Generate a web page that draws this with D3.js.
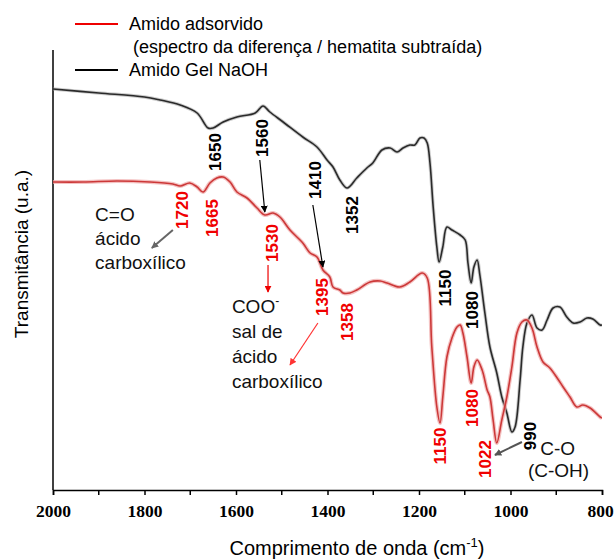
<!DOCTYPE html>
<html>
<head>
<meta charset="utf-8">
<script src="https://cdn.jsdelivr.net/npm/d3@7"></script>
<style>
  body { margin: 0; background: #fff; }
  text { font-family: "Liberation Sans", Arial, sans-serif; }
</style>
</head>
<body>
<div id="chart"></div>
<script>
// Amido Gel NaOH (black)
const blackWave = [2000, 1900, 1800, 1766, 1722, 1685, 1661, 1650, 1628, 1598, 1558, 1541, 1526, 1497, 1454, 1423, 1401, 1388, 1373, 1357, 1336, 1314, 1301, 1281, 1263, 1248, 1235, 1220, 1209, 1198, 1189, 1182, 1176, 1169, 1161, 1156, 1148, 1139, 1128, 1110, 1099, 1093, 1086, 1080, 1073, 1067, 1056, 1045, 1030, 1019, 1008, 997, 990, 979, 973, 964, 953, 942, 931, 920, 907, 892, 877, 863, 848, 833, 820, 804, 800];
const blackT = [401, 397, 393, 390, 385, 377, 362, 362, 368, 373, 377, 384, 378, 368, 353, 343, 330, 323, 310, 302, 312, 322, 327, 340, 342, 338, 342, 345, 345, 352, 352, 347, 327, 283, 243, 228, 243, 263, 260, 255, 250, 227, 207, 223, 230, 215, 177, 143, 117, 93, 77, 58, 63, 110, 143, 167, 175, 162, 160, 170, 182, 183, 173, 167, 168, 172, 171, 165, 165];

// Amido adsorvido (red)
const redWave = [2000, 1934, 1860, 1788, 1738, 1722, 1701, 1685, 1672, 1657, 1642, 1628, 1613, 1598, 1576, 1554, 1537, 1519, 1504, 1482, 1454, 1438, 1423, 1410, 1395, 1388, 1373, 1366, 1351, 1336, 1307, 1285, 1270, 1242, 1220, 1193, 1182, 1172, 1161, 1154, 1148, 1139, 1128, 1117, 1110, 1104, 1095, 1086, 1080, 1073, 1062, 1051, 1045, 1038, 1030, 1019, 1008, 997, 986, 975, 964, 953, 942, 929, 914, 898, 885, 870, 855, 842, 826, 804, 800];
const redT = [308, 308, 309, 308, 306, 304, 307, 303, 298, 307, 312, 313, 308, 298, 292, 282, 275, 277, 273, 260, 247, 237, 233, 220, 213, 203, 200, 197, 197, 200, 208, 209, 207, 203, 208, 217, 212, 143, 83, 67, 93, 133, 152, 163, 165, 157, 133, 107, 123, 130, 120, 100, 93, 70, 47, 70, 93, 123, 157, 168, 170, 162, 143, 128, 122, 112, 103, 93, 83, 85, 82, 73, 72];

const xTicks = [2000, 1800, 1600, 1400, 1200, 1000, 800];
const xMinorTicks = [1900, 1700, 1500, 1300, 1100, 900];

// peak labels: text, wavenumber, transmittance of label centre
const blackLabels = [
  ["1650", 1644, 338], ["1560", 1543, 352], ["1410", 1427, 310],
  ["1352", 1346, 275], ["1150", 1143, 202], ["1080", 1084, 180], ["990", 957, 54]
];
const redLabels = [
  ["1720", 1718, 280], ["1665", 1652, 272], ["1530", 1521, 247], ["1395", 1412, 193],
  ["1358", 1357, 168], ["1150", 1152, 44], ["1080", 1084, 82], ["1022", 1054, 31]
];

// arrows: [w1, t1, w2, t2, colour]
const arrows = [
  [1548, 330, 1537, 278, "#000"],
  [1432, 285, 1410, 223, "#000"],
  [1530, 225, 1530, 198, "#e00"],
  [1421, 167, 1482, 125, "#f33"],
  [1738, 260, 1784, 242, "#666"],
  [975, 48, 1034, 35, "#555"]
];

const width = 614, height = 560;
const margin = { left: 53, right: 12, top: 50, bottom: 70 };

const svg = d3.select("#chart").append("svg").attr("width", width).attr("height", height);

const x = d3.scaleLinear().domain([2000, 800]).range([margin.left, width - margin.right]);
const y = d3.scaleLinear().domain([0, 440]).range([height - margin.bottom, margin.top]);

// axes
const xAxis = svg.append("g")
  .attr("transform", `translate(0,${y(0)})`)
  .call(d3.axisBottom(x).tickValues(xTicks).tickSize(5).tickPadding(10).tickFormat(d3.format("d")));
xAxis.select(".domain").attr("stroke", "#000").attr("stroke-width", 1.5);
xAxis.selectAll(".tick line").attr("stroke-width", 1.5);
xAxis.selectAll("text")
  .style("font-family", "'Liberation Serif', 'Times New Roman', serif")
  .style("font-weight", "bold")
  .style("font-size", "17.5px")
  .attr("fill", "#000")
  .attr("dx", (d) => (d === 800 ? -2 : 0));

svg.append("g")
  .attr("transform", `translate(0,${y(0)})`)
  .selectAll("line")
  .data(xMinorTicks)
  .enter()
  .append("line")
  .attr("x1", (d) => x(d))
  .attr("x2", (d) => x(d))
  .attr("y1", 0)
  .attr("y2", 5)
  .attr("stroke", "#000")
  .attr("stroke-width", 1.5);

svg.append("line")
  .attr("x1", x(2000)).attr("x2", x(2000))
  .attr("y1", y(0)).attr("y2", y(440))
  .attr("stroke", "#000").attr("stroke-width", 1.5);

// axis titles
const xTitle = svg.append("text")
  .attr("x", 357)
  .attr("y", 555)
  .attr("text-anchor", "middle")
  .attr("font-size", "20px")
  .text("Comprimento de onda (cm");
xTitle.append("tspan").attr("dy", -8).attr("font-size", "13px").text("-1");
xTitle.append("tspan").attr("dy", 8).text(")");

svg.append("text")
  .attr("transform", "translate(28,254) rotate(-90)")
  .attr("text-anchor", "middle")
  .attr("font-size", "19px")
  .text("Transmitância (u.a.)");

// spectra
svg.append("clipPath").attr("id", "plot-clip")
  .append("rect")
  .attr("x", x(2000)).attr("y", y(440))
  .attr("width", x(800) - x(2000)).attr("height", y(0) - y(440));

const line = d3.line()
  .x((d) => x(d[0]))
  .y((d) => y(d[1]))
  .curve(d3.curveCatmullRom.alpha(0.5));

const blackData = blackWave.map((w, i) => [w, blackT[i]]);
const redData = redWave.map((w, i) => [w, redT[i]]);

const plot = svg.append("g").attr("clip-path", "url(#plot-clip)");

plot.append("path").datum(blackData).attr("d", line)
  .attr("fill", "none").attr("stroke", "#999").attr("stroke-width", 3.5).attr("stroke-opacity", 0.5);
plot.append("path").datum(blackData).attr("d", line)
  .attr("fill", "none").attr("stroke", "#2a2a2a").attr("stroke-width", 1.6);

plot.append("path").datum(redData).attr("d", line)
  .attr("fill", "none").attr("stroke", "#f0a8a8").attr("stroke-width", 4).attr("stroke-opacity", 0.7);
plot.append("path").datum(redData).attr("d", line)
  .attr("fill", "none").attr("stroke", "#cc3838").attr("stroke-width", 1.6);

// arrow markers
const defs = svg.append("defs");
arrows.forEach((a, i) => {
  defs.append("marker")
    .attr("id", "arrow" + i)
    .attr("viewBox", "0 0 10 10")
    .attr("refX", 9)
    .attr("refY", 5)
    .attr("markerWidth", 7)
    .attr("markerHeight", 7)
    .attr("markerUnits", "userSpaceOnUse")
    .attr("orient", "auto")
    .append("path")
    .attr("d", "M0,0 L10,5 L0,10 z")
    .attr("fill", a[4]);
});

svg.append("g")
  .selectAll("line")
  .data(arrows)
  .enter()
  .append("line")
  .attr("x1", (d) => x(d[0]))
  .attr("y1", (d) => y(d[1]))
  .attr("x2", (d) => x(d[2]))
  .attr("y2", (d) => y(d[3]))
  .attr("stroke", (d) => d[4])
  .attr("stroke-width", (d) => (d[4] === "#666" || d[4] === "#555" ? 2 : 1.2))
  .attr("marker-end", (d, i) => `url(#arrow${i})`);

// peak labels
function drawLabels(data, colour) {
  svg.append("g")
    .selectAll("text")
    .data(data)
    .enter()
    .append("text")
    .attr("transform", (d) => `translate(${x(d[1])},${y(d[2])}) rotate(-90)`)
    .attr("text-anchor", "middle")
    .attr("dominant-baseline", "central")
    .attr("font-size", "17px")
    .attr("font-weight", "bold")
    .attr("fill", colour)
    .text((d) => d[0]);
}
drawLabels(blackLabels, "#000");
drawLabels(redLabels, "#f00000");

// assignment notes
function drawNote(lines, w, t0, step) {
  const g = svg.append("g");
  lines.forEach((s, i) => {
    g.append("text")
      .attr("x", x(w))
      .attr("y", y(t0 - i * step))
      .attr("font-size", "19px")
      .attr("fill", "#111")
      .text(s);
  });
  return g;
}
drawNote(["C=O", "ácido", "carboxílico"], 1908, 269, 24);
const coo = drawNote(["COO", "sal de", "ácido", "carboxílico"], 1609, 177, 25);
coo.select("text").append("tspan").attr("dy", -8).attr("font-size", "12px").text("-");
drawNote(["C-O"], 935, 35, 0);
drawNote(["(C-OH)"], 962, 13, 0);

// legend
const legend = svg.append("g");
legend.append("line").attr("x1", 75).attr("x2", 118).attr("y1", 24).attr("y2", 24)
  .attr("stroke", "#e00").attr("stroke-width", 1.8);
legend.append("text").attr("x", 129).attr("y", 30).attr("font-size", "18px").text("Amido adsorvido");
legend.append("text").attr("x", 133).attr("y", 53).attr("font-size", "18px")
  .text("(espectro da diferença / hematita subtraída)");
legend.append("line").attr("x1", 75).attr("x2", 118).attr("y1", 70).attr("y2", 70)
  .attr("stroke", "#000").attr("stroke-width", 1.8);
legend.append("text").attr("x", 129).attr("y", 76).attr("font-size", "18px").text("Amido Gel NaOH");
</script>
</body>
</html>
